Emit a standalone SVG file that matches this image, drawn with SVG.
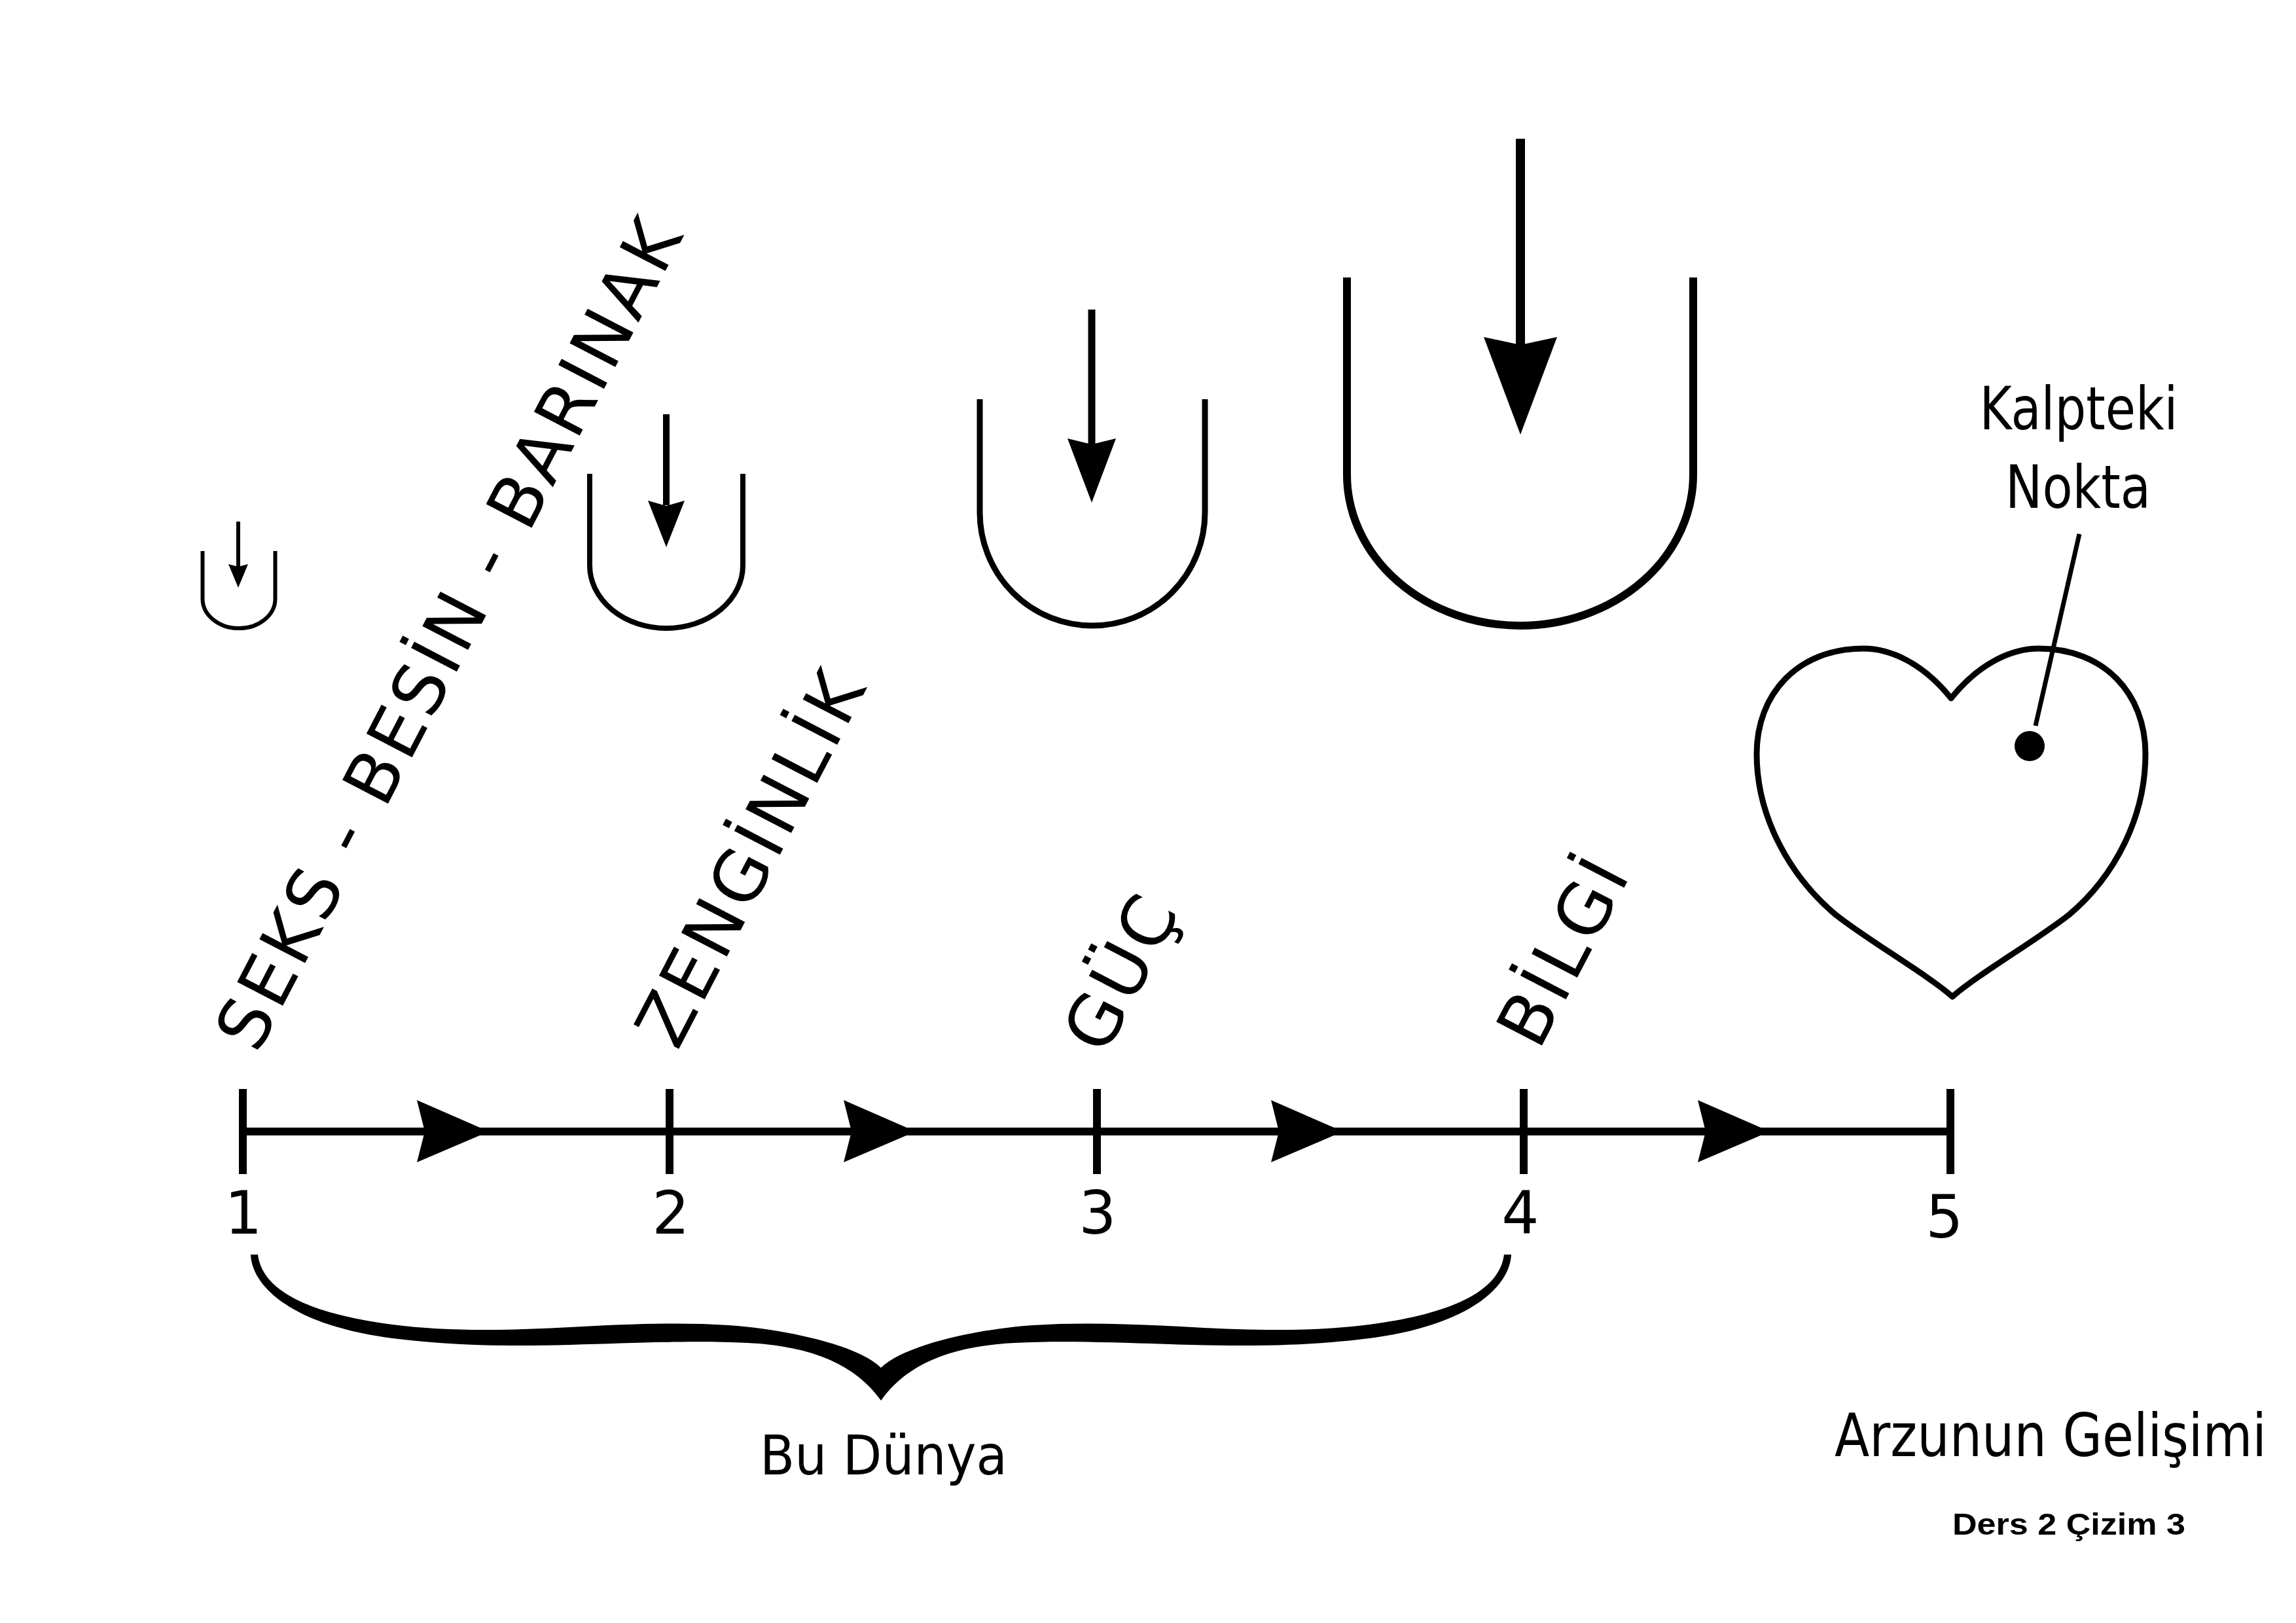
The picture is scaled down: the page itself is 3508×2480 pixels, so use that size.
<svg xmlns="http://www.w3.org/2000/svg" width="3508" height="2480" viewBox="0 0 3508 2480">
<style>
text{fill:#000;font-family:"DejaVu Sans","Verdana",sans-serif}
.rot{font-size:108px;letter-spacing:5.5px}
.num{font-size:90px;text-anchor:middle}
.lbl{font-size:90px;text-anchor:middle}
.u{fill:none;stroke:#000;stroke-linecap:butt}
.sh{stroke:#000;fill:none}
.line{stroke:#000;fill:none}
</style>
<rect x="0" y="0" width="3508" height="2480" fill="#fff"/>

<g id="labels-rotated">
<g id="label-seks" transform="translate(393,1612) rotate(-62.5)"><text class="rot" x="0" y="0">SEKS - BESİN - BARINAK</text></g>
<g id="label-zenginlik" transform="translate(1035,1607) rotate(-62.5)"><text class="rot" x="0" y="0">ZENGİNLİK</text></g>
<g id="label-guc" transform="translate(1688,1615) rotate(-62.5)"><text class="rot" x="0" y="0">GÜÇ</text></g>
<g id="label-bilgi" transform="translate(2351,1607) rotate(-62.5)"><text class="rot" x="0" y="0">BİLGİ</text></g>
</g>

<g id="vessel-1">
<path class="u" stroke-width="6" d="M309.5,842 V915 A55.5,45 0 0 0 420.5,915 V842"/>
<line class="sh" stroke-width="6" x1="364" y1="797" x2="364" y2="866"/>
<polygon points="349,862 364,866 379,862 364,898" fill="#000"/>
</g>
<g id="vessel-2">
<path class="u" stroke-width="8" d="M901,724 V864 A117,96 0 0 0 1135,864 V724"/>
<line class="sh" stroke-width="10" x1="1018" y1="633" x2="1018" y2="772"/>
<polygon points="990,765 1018,773 1046,765 1018,836" fill="#000"/>
</g>
<g id="vessel-3">
<path class="u" stroke-width="9" d="M1497,610 V783 A172,173 0 0 0 1841,783 V610"/>
<line class="sh" stroke-width="11" x1="1668" y1="473" x2="1668" y2="680"/>
<polygon points="1631,670 1668,679 1705,670 1668,768" fill="#000"/>
</g>
<g id="vessel-4">
<path class="u" stroke-width="12" d="M2058,424 V725 A264.5,231 0 0 0 2587,725 V424"/>
<line class="sh" stroke-width="14" x1="2323" y1="212" x2="2323" y2="530"/>
<polygon points="2267,515 2323,527 2379,515 2323,664" fill="#000"/>
</g>

<g id="heart">
<path fill="none" stroke="#000" stroke-width="9" stroke-linejoin="round" d="M2981,1067 C3025,1012 3075,991 3115,991 C3215,991 3278,1060 3278,1152 C3278,1250 3230,1340 3161,1398 C3110,1438 3020,1490 2983,1523 C2946,1490 2856,1438 2805,1398 C2736,1340 2684,1250 2684,1152 C2684,1060 2747,991 2847,991 C2887,991 2937,1012 2981,1067 Z"/>
<circle cx="3101" cy="1140" r="23" fill="#000"/>
</g>
<g id="label-kalpteki">
<text class="lbl" x="3176" y="656" textLength="303" lengthAdjust="spacingAndGlyphs">Kalpteki</text>
<text class="lbl" x="3175" y="776" textLength="222" lengthAdjust="spacingAndGlyphs">Nokta</text>
</g>

<g id="connectors">
<line class="line" stroke-width="7" x1="3177" y1="816" x2="3110" y2="1109"/>
<line class="line" stroke-width="12" x1="371" y1="1729" x2="2980" y2="1729"/>
<g stroke="#000" stroke-width="12">
<line x1="371" y1="1664" x2="371" y2="1794"/>
<line x1="1023" y1="1664" x2="1023" y2="1794"/>
<line x1="1676" y1="1664" x2="1676" y2="1794"/>
<line x1="2328" y1="1664" x2="2328" y2="1794"/>
<line x1="2980" y1="1664" x2="2980" y2="1794"/>
</g>
<g fill="#000">
<polygon points="637,1681 747,1729 637,1776 649,1729"/>
<polygon points="1289,1681 1399,1729 1289,1776 1301,1729"/>
<polygon points="1942,1681 2052,1729 1942,1776 1954,1729"/>
<polygon points="2594,1681 2704,1729 2594,1776 2606,1729"/>
</g>
</g>

<g id="numbers">
<text class="num" x="372" y="1885">1</text>
<text class="num" x="1025" y="1885">2</text>
<text class="num" x="1677" y="1885">3</text>
<text class="num" x="2323" y="1885">4</text>
<text class="num" x="2971" y="1891">5</text>
</g>

<g id="brace-bu-dunya">
<path fill="#000" d="M383,1917 C385,1965 445,2025 600,2045 C680,2055 760,2058 870,2055 C980,2052 1060,2048 1142,2052 C1220,2056 1300,2075 1346,2140 C1392,2075 1472,2056 1550,2052 C1632,2048 1712,2052 1822,2055 C1932,2058 2012,2055 2092,2045 C2247,2025 2307,1965 2309,1917 L2298,1917 C2292,1965 2237,2005 2092,2024 C2012,2034 1932,2034 1822,2028 C1732,2023 1652,2020 1578,2025 C1492,2031 1382,2055 1346,2090 C1310,2055 1200,2031 1114,2025 C1040,2020 960,2023 870,2028 C760,2034 680,2034 600,2024 C455,2005 400,1965 394,1917 Z"/>
<text class="lbl" style="font-size:84px" x="1350" y="2253" textLength="378" lengthAdjust="spacingAndGlyphs">Bu Dünya</text>
</g>

<g id="title">
<text transform="translate(3133,2225) scale(0.866,1)" style="font-size:90px;text-anchor:middle" x="0" y="0">Arzunun Gelişimi</text>
<text x="3161" y="2345" style="font-family:'Liberation Sans',Arial,sans-serif;font-weight:bold;font-size:47px;text-anchor:middle" textLength="356" lengthAdjust="spacingAndGlyphs">Ders 2 Çizim 3</text>
</g>
</svg>
